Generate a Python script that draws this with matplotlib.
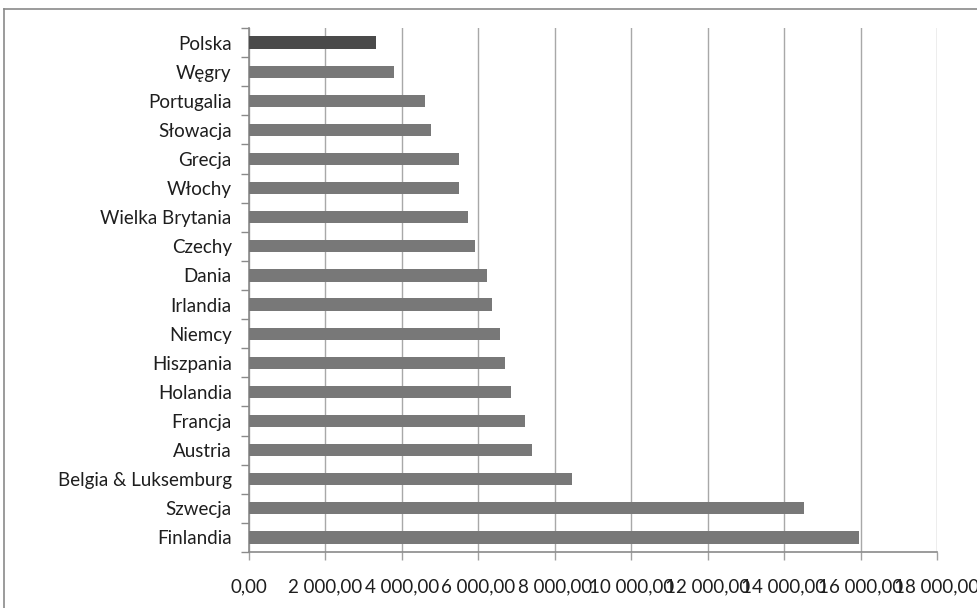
import matplotlib.pyplot as plt
from matplotlib.ticker import FuncFormatter, MultipleLocator

countries = ["Polska", "Węgry", "Portugalia", "Słowacja", "Grecja", "Włochy",
             "Wielka Brytania", "Czechy", "Dania", "Irlandia", "Niemcy",
             "Hiszpania", "Holandia", "Francja", "Austria",
             "Belgia & Luksemburg", "Szwecja", "Finlandia"]
values = [3320, 3790, 4600, 4760, 5490, 5490, 5730, 5910, 6230, 6360, 6570,
          6700, 6850, 7220, 7400, 8450, 14520, 15960]

plt.rcParams['font.family'] = ['Lato', 'DejaVu Sans']

fig = plt.figure(figsize=(9.78, 6.08), dpi=100)
W, H = 978, 608

# frame around the chart area
fig.add_artist(plt.Line2D([4 / W, 4 / W], [0, 1 - 9 / H], color='#8a8a8a', lw=1.2))
fig.add_artist(plt.Line2D([4 / W, 1], [1 - 9 / H, 1 - 9 / H], color='#8a8a8a', lw=1.2))

ax = fig.add_axes([249 / W, 1 - 552 / H, (937 - 249) / W, (552 - 28) / H])

colors = ['#4a4a4a'] + ['#787878'] * (len(countries) - 1)
y = list(range(len(countries)))
ax.barh(y, values, height=0.42, color=colors, zorder=3)

ax.set_ylim(len(countries) - 0.5, -0.5)
ax.set_xlim(0, 18000)
ax.xaxis.set_major_locator(MultipleLocator(2000))
ax.xaxis.set_major_formatter(
    FuncFormatter(lambda v, p: f"{v:,.2f}".replace(",", " ").replace(".", ",")))

ax.set_yticks(y)
ax.set_yticklabels(countries)
ax.set_yticks([i - 0.5 for i in range(len(countries) + 1)], minor=True)
ax.tick_params(axis='y', which='major', length=0, pad=12.5, labelsize=13.5, labelcolor='#1e1e1e')
ax.tick_params(axis='y', which='minor', length=6, color='#8a8a8a', width=1)
ax.tick_params(axis='x', length=6, color='#a0a0a0', width=1, pad=13,
               labelsize=13.5, labelcolor='#1e1e1e')

ax.grid(axis='x', color='#a8a8a8', lw=1, zorder=0)
for side in ['top', 'right']:
    ax.spines[side].set_visible(False)
for side in ['left', 'bottom']:
    ax.spines[side].set_color('#8a8a8a')
    ax.spines[side].set_linewidth(1.2)

fig.savefig('out.png', dpi=100)
